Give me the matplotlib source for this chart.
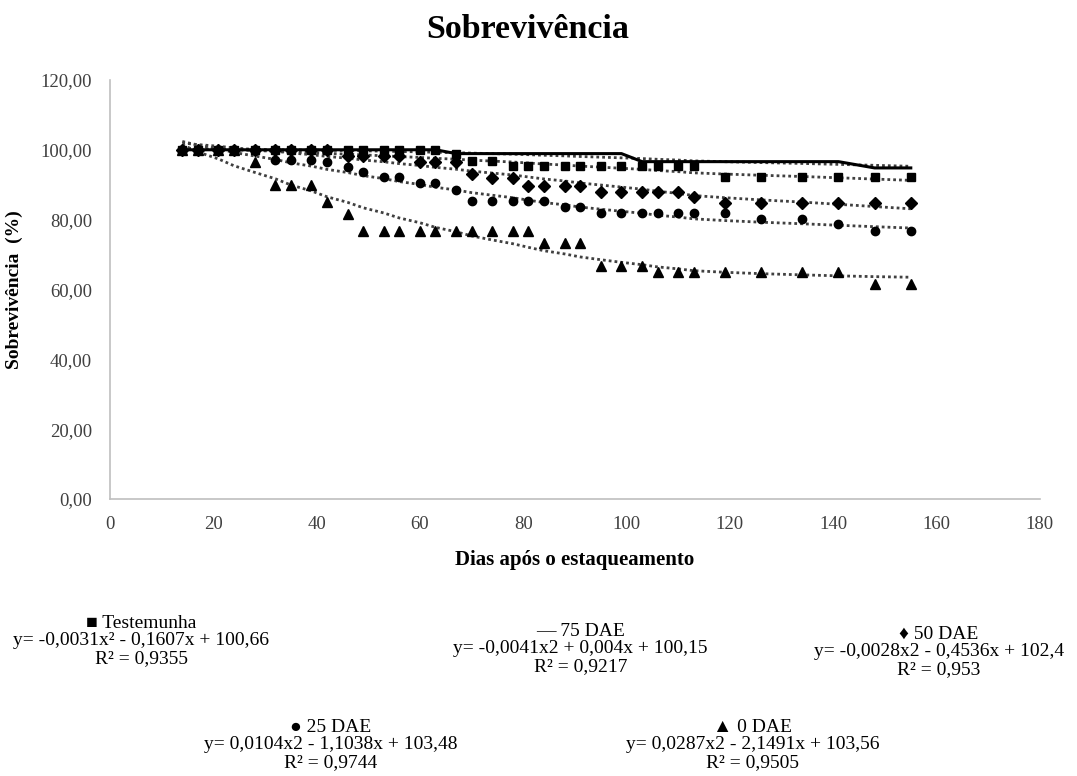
import numpy as np
import matplotlib
matplotlib.use("Agg")
import matplotlib.pyplot as plt

plt.rcParams["font.family"] = ["Liberation Serif", "DejaVu Sans"]

# dias de avaliacao
dias = [14, 17, 21, 24, 28, 32, 35, 39, 42, 46, 49, 53, 56, 60, 63, 67, 70, 74,
        78, 81, 84, 88, 91, 95, 99, 103, 106, 110, 113, 119, 126, 134, 141, 148, 155]

testemunha = [100] * 15 + [98.9, 96.9, 96.9] + [95.4] * 11 + [92.3] * 6
dae75 = [100] * 15 + [98.9] * 10 + [96.6] * 8 + [94.8] * 2
dae50 = [100] * 9 + [98.3] * 4 + [96.6] * 3 + [93.1, 92.0, 92.0] + [89.7] * 4 + \
        [88.0] * 5 + [86.5] + [84.8] * 6
dae25 = [100] * 5 + [97.0] * 3 + [96.6, 95.1, 93.7, 92.3, 92.3, 90.5, 90.5, 88.5] + \
        [85.3] * 5 + [83.7] * 2 + [81.9] * 7 + [80.2, 80.2, 78.8, 76.8, 76.8]
dae0 = [100] * 4 + [96.5] + [90.0] * 3 + [85.0, 81.7] + [76.7] * 10 + [73.3] * 3 + \
       [66.7] * 3 + [65.0] * 7 + [61.5] * 2

# coeficientes das linhas de tendencia (polinomio grau 2, x = indice do ponto)
coef_test = [-0.0031, -0.1607, 100.66]
coef_75 = [-0.0041, 0.004, 100.15]
coef_50 = [-0.0028, -0.4536, 102.4]
coef_25 = [0.0104, -1.1038, 103.48]
coef_0 = [0.0287, -2.1491, 103.56]

eq_textos = [
    "\u25a0 Testemunha\ny= -0,0031x\u00b2 - 0,1607x + 100,66\nR\u00b2 = 0,9355",
    "\u2014 75 DAE\ny= -0,0041x2 + 0,004x + 100,15\nR\u00b2 = 0,9217",
    "\u2666 50 DAE\ny= -0,0028x2 - 0,4536x + 102,4\nR\u00b2 = 0,953",
    "\u25cf 25 DAE\ny= 0,0104x2 - 1,1038x + 103,48\nR\u00b2 = 0,9744",
    "\u25b2 0 DAE\ny= 0,0287x2 - 2,1491x + 103,56\nR\u00b2 = 0,9505",
]

fig = plt.figure(figsize=(10.77, 7.76), dpi=100)
ax = fig.add_axes([0.1021, 0.357, 0.8635, 0.540])

idx = np.arange(1, len(dias) + 1)
cor_tend = "#404040"
estilo_tend = dict(color=cor_tend, linestyle=(0, (1, 1.1)), linewidth=2.0, zorder=2)

series = [
    (testemunha, coef_test, "s", 6.0),
    (dae50, coef_50, "D", 6.0),
    (dae25, coef_25, "o", 6.0),
    (dae0, coef_0, "^", 7.0),
]

ax.plot(dias, dae75, color="black", linewidth=2.2, zorder=3)
ax.plot(dias, np.polyval(coef_75, idx), **estilo_tend)

for valores, coef, marca, tam in series:
    ax.plot(dias, valores, linestyle="none", marker=marca, markersize=tam,
            color="black", zorder=4)
    ax.plot(dias, np.polyval(coef, idx), **estilo_tend)

ax.set_xlim(0, 180)
ax.set_ylim(0, 120)
ax.set_xticks(range(0, 181, 20))
ax.set_yticks(range(0, 121, 20))
ax.set_yticklabels([f"{v},00" for v in range(0, 121, 20)])

for lado in ["top", "right"]:
    ax.spines[lado].set_visible(False)
for lado in ["left", "bottom"]:
    ax.spines[lado].set_color("#bfbfbf")
    ax.spines[lado].set_linewidth(1.2)

ax.tick_params(axis="both", length=0, labelsize=13.5, labelcolor="#404040")
ax.tick_params(axis="x", pad=12)
ax.tick_params(axis="y", pad=13)

ax.set_xlabel("Dias após o estaqueamento", fontsize=15, fontweight="bold")
ax.xaxis.set_label_coords(0.5, -0.122)
ax.set_ylabel("Sobrevivência  (%)", fontsize=14, fontweight="bold")
ax.yaxis.set_label_coords(-0.094, 0.5)

fig.text(0.490, 0.962, "Sobrevivência", fontsize=24.5, fontweight="bold",
         ha="center", va="center")

# equacoes
posicoes = [(0.131, 0.174), (0.539, 0.164), (0.872, 0.160),
            (0.307, 0.040), (0.699, 0.040)]
for texto, (px, py) in zip(eq_textos, posicoes):
    fig.text(px, py, texto, fontsize=14, ha="center", va="center",
             multialignment="center", linespacing=1.05)

fig.savefig("out.png", dpi=100)
plt.close(fig)
